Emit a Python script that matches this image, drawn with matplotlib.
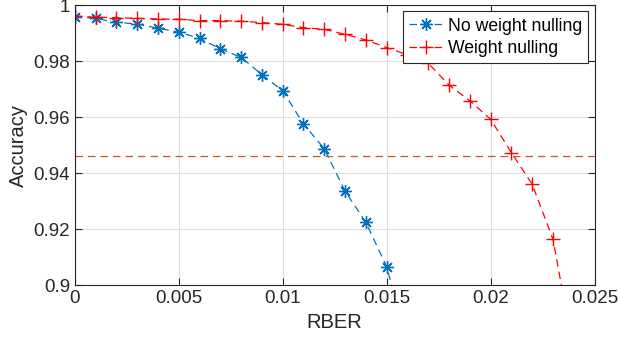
import numpy as np
import matplotlib.pyplot as plt

plt.rcParams['font.family'] = ['Liberation Sans', 'DejaVu Sans']

# RBER values and accuracies
rber_no = [0, 0.001, 0.002, 0.003, 0.004, 0.005, 0.006, 0.007, 0.008,
           0.009, 0.010, 0.011, 0.012, 0.013, 0.014, 0.015, 0.016]
acc_no = [0.9959, 0.9953, 0.9939, 0.9933, 0.9918, 0.9904, 0.9882, 0.9844,
          0.9814, 0.9752, 0.9695, 0.9576, 0.9488, 0.9336, 0.9225, 0.9067,
          0.879]

rber_wn = [0, 0.001, 0.002, 0.003, 0.004, 0.005, 0.006, 0.007, 0.008,
           0.009, 0.010, 0.011, 0.012, 0.013, 0.014, 0.015, 0.016, 0.017,
           0.018, 0.019, 0.020, 0.021, 0.022, 0.023, 0.024]
acc_wn = [0.9962, 0.9957, 0.9956, 0.9953, 0.9951, 0.9950, 0.9945, 0.9945,
          0.9943, 0.9938, 0.9932, 0.9920, 0.9914, 0.9896, 0.9876, 0.9849,
          0.9823, 0.9793, 0.9715, 0.9659, 0.9593, 0.9474, 0.9361, 0.9165,
          0.876]

threshold = 0.9462

xticks = [0, 0.005, 0.01, 0.015, 0.02, 0.025]
xlabels = ['0', '0.005', '0.01', '0.015', '0.02', '0.025']
yticks = [0.9, 0.92, 0.94, 0.96, 0.98, 1.0]
ylabels = ['0.9', '0.92', '0.94', '0.96', '0.98', '1']

blue = (0, 0.447, 0.741)
orange = (0.85, 0.325, 0.098)

fig = plt.figure(figsize=(6.18, 3.49), dpi=100)
ax = fig.add_axes([0.121, 0.1825, 0.841, 0.8025])

ax.plot(rber_no, acc_no, color=blue, linestyle='--', dashes=(6, 4),
        marker=(8, 2, 0), markersize=9, linewidth=0.9, markeredgewidth=1.0,
        label='No weight nulling')
ax.plot(rber_wn, acc_wn, color='red', linestyle='--', dashes=(6, 4),
        marker='+', markersize=10, linewidth=0.9, markeredgewidth=1.0,
        label='Weight nulling')
ax.axhline(threshold, color=orange, linestyle='--', linewidth=0.9,
           dashes=(6, 4))

ax.set_xlim(0, 0.025)
ax.set_ylim(0.9, 1.0)
ax.set_xticks(xticks)
ax.set_xticklabels(xlabels)
ax.set_yticks(yticks)
ax.set_yticklabels(ylabels)
ax.tick_params(direction='in', top=True, right=True, labelsize=13.5,
               length=5, width=0.8, colors='#262626')
ax.grid(True, color='#dedede', linewidth=0.8)
ax.set_axisbelow(True)
for s in ax.spines.values():
    s.set_color('#262626')
    s.set_linewidth(0.8)

ax.set_xlabel('RBER', fontsize=14.5, color='#262626', labelpad=4)
ax.set_ylabel('Accuracy', fontsize=14.5, color='#262626', labelpad=4)

leg = ax.legend(loc='upper right', fontsize=12.7, fancybox=False,
                framealpha=1, edgecolor='#262626', borderpad=0.35,
                handlelength=1.9, handletextpad=0.3, labelspacing=0.3,
                borderaxespad=0.35)
leg.get_frame().set_linewidth(0.8)

fig.savefig('out.png', dpi=100)
